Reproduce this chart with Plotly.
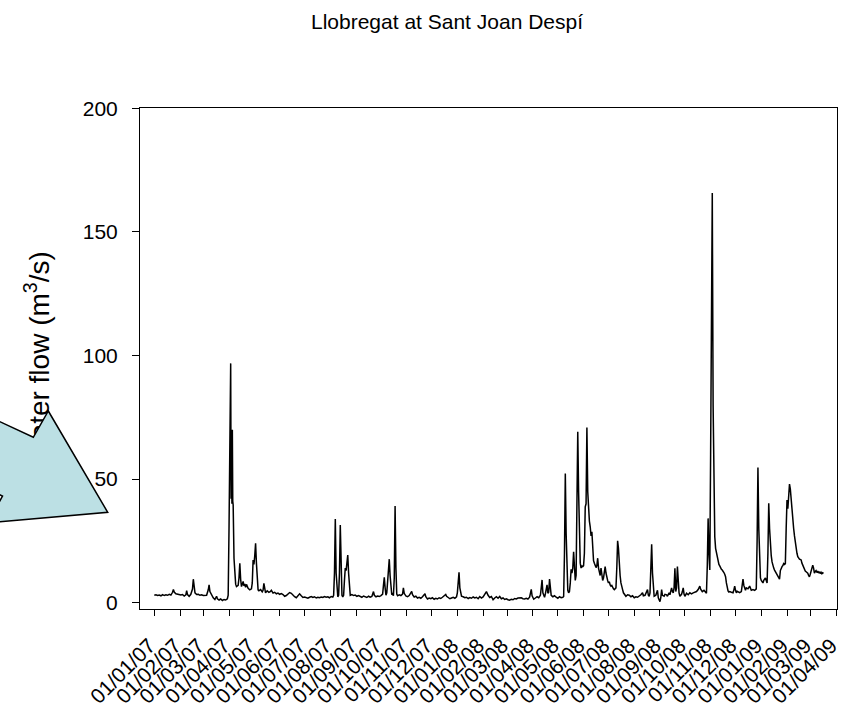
import plotly.graph_objects as go

# ---------------- data ----------------
dates = [
 "2007-01-01","2007-01-03","2007-01-05","2007-01-07","2007-01-09","2007-01-11","2007-01-13","2007-01-15","2007-01-17","2007-01-19","2007-01-21","2007-01-23","2007-01-24","2007-01-25","2007-01-27","2007-01-29","2007-01-31",
 "2007-02-02","2007-02-04","2007-02-06","2007-02-08","2007-02-09","2007-02-10","2007-02-12","2007-02-14","2007-02-16","2007-02-17","2007-02-18","2007-02-19","2007-02-21","2007-02-23","2007-02-25","2007-02-27",
 "2007-03-01","2007-03-03","2007-03-05","2007-03-07","2007-03-08","2007-03-09","2007-03-11","2007-03-13","2007-03-15","2007-03-17","2007-03-18","2007-03-20","2007-03-22","2007-03-24","2007-03-26","2007-03-28","2007-03-30","2007-03-31",
 "2007-04-01","2007-04-02","2007-04-03","2007-04-03 12:00","2007-04-04","2007-04-04 12:00","2007-04-05","2007-04-05 12:00","2007-04-06","2007-04-07","2007-04-08","2007-04-09","2007-04-10","2007-04-12","2007-04-13","2007-04-14","2007-04-15","2007-04-16","2007-04-17","2007-04-18","2007-04-19","2007-04-20","2007-04-21","2007-04-22","2007-04-24","2007-04-26","2007-04-28","2007-04-29","2007-04-30",
 "2007-05-01","2007-05-02","2007-05-03","2007-05-04","2007-05-05","2007-05-06","2007-05-07","2007-05-09","2007-05-11","2007-05-12","2007-05-13","2007-05-14","2007-05-15","2007-05-17","2007-05-19","2007-05-21","2007-05-22","2007-05-24","2007-05-26","2007-05-28","2007-05-30",
 "2007-06-01","2007-06-03","2007-06-05","2007-06-07","2007-06-09","2007-06-11","2007-06-13","2007-06-15","2007-06-17","2007-06-19","2007-06-21","2007-06-23","2007-06-25","2007-06-27","2007-06-29",
 "2007-07-01","2007-07-03","2007-07-05","2007-07-07","2007-07-09","2007-07-11","2007-07-13","2007-07-15","2007-07-17","2007-07-19","2007-07-21","2007-07-23","2007-07-25","2007-07-27","2007-07-29","2007-07-31",
 "2007-08-02","2007-08-04","2007-08-05","2007-08-06","2007-08-07","2007-08-08","2007-08-09","2007-08-10","2007-08-11","2007-08-12","2007-08-13","2007-08-14","2007-08-15","2007-08-16","2007-08-17","2007-08-18","2007-08-19","2007-08-20","2007-08-21","2007-08-22","2007-08-23","2007-08-24","2007-08-25","2007-08-27","2007-08-29","2007-08-31",
 "2007-09-02","2007-09-04","2007-09-06","2007-09-08","2007-09-10","2007-09-12","2007-09-14","2007-09-16","2007-09-18","2007-09-20","2007-09-22","2007-09-23","2007-09-25","2007-09-27","2007-09-29",
 "2007-10-01","2007-10-03","2007-10-04","2007-10-05","2007-10-06","2007-10-07","2007-10-08","2007-10-09","2007-10-10","2007-10-11","2007-10-12","2007-10-13","2007-10-14","2007-10-15","2007-10-16","2007-10-17","2007-10-18","2007-10-19","2007-10-20","2007-10-21","2007-10-23","2007-10-25","2007-10-27","2007-10-28","2007-10-29","2007-10-31",
 "2007-11-02","2007-11-04","2007-11-06","2007-11-07","2007-11-08","2007-11-10","2007-11-12","2007-11-14","2007-11-16","2007-11-18","2007-11-20","2007-11-22","2007-11-23","2007-11-24","2007-11-26","2007-11-28","2007-11-30",
 "2007-12-02","2007-12-04","2007-12-06","2007-12-08","2007-12-10","2007-12-12","2007-12-14","2007-12-16","2007-12-18","2007-12-19","2007-12-21","2007-12-23","2007-12-25","2007-12-27","2007-12-29","2007-12-31",
 "2008-01-01","2008-01-02","2008-01-03","2008-01-04","2008-01-05","2008-01-06","2008-01-08","2008-01-10","2008-01-12","2008-01-14","2008-01-16","2008-01-18","2008-01-20","2008-01-22","2008-01-24","2008-01-26","2008-01-28","2008-01-30",
 "2008-02-01","2008-02-03","2008-02-05","2008-02-07","2008-02-09","2008-02-11","2008-02-13","2008-02-15","2008-02-17","2008-02-19","2008-02-21","2008-02-23","2008-02-25","2008-02-27","2008-02-29",
 "2008-03-02","2008-03-04","2008-03-06","2008-03-08","2008-03-10","2008-03-12","2008-03-14","2008-03-16","2008-03-18","2008-03-20","2008-03-22","2008-03-24","2008-03-26","2008-03-28","2008-03-29","2008-03-30","2008-03-31",
 "2008-04-02","2008-04-04","2008-04-06","2008-04-08","2008-04-10","2008-04-11","2008-04-12","2008-04-13","2008-04-14","2008-04-15","2008-04-16","2008-04-17","2008-04-18","2008-04-19","2008-04-20","2008-04-21","2008-04-22","2008-04-23","2008-04-25","2008-04-27","2008-04-29",
 "2008-05-01","2008-05-03","2008-05-05","2008-05-07","2008-05-08","2008-05-09","2008-05-10","2008-05-11","2008-05-12","2008-05-13","2008-05-14","2008-05-15","2008-05-16","2008-05-17","2008-05-18","2008-05-19","2008-05-20","2008-05-21","2008-05-22","2008-05-23","2008-05-24","2008-05-25","2008-05-26","2008-05-27","2008-05-28","2008-05-29","2008-05-30","2008-05-31",
 "2008-06-01","2008-06-02","2008-06-03","2008-06-04","2008-06-05","2008-06-06","2008-06-07","2008-06-08","2008-06-09","2008-06-10","2008-06-11","2008-06-12","2008-06-13","2008-06-14","2008-06-15","2008-06-16","2008-06-17","2008-06-18","2008-06-19","2008-06-20","2008-06-21","2008-06-22","2008-06-23","2008-06-24","2008-06-25","2008-06-26","2008-06-27","2008-06-28","2008-06-29","2008-06-30",
 "2008-07-01","2008-07-02","2008-07-03","2008-07-04","2008-07-05","2008-07-06","2008-07-07","2008-07-08","2008-07-09","2008-07-10","2008-07-11","2008-07-12","2008-07-13","2008-07-14","2008-07-15","2008-07-16","2008-07-17","2008-07-18","2008-07-19","2008-07-20","2008-07-21","2008-07-22","2008-07-24","2008-07-26","2008-07-28","2008-07-30",
 "2008-08-01","2008-08-03","2008-08-05","2008-08-07","2008-08-09","2008-08-11","2008-08-12","2008-08-14","2008-08-16","2008-08-17","2008-08-18","2008-08-19","2008-08-20","2008-08-21","2008-08-22","2008-08-23","2008-08-24","2008-08-25","2008-08-27","2008-08-28","2008-08-29","2008-08-30",
 "2008-09-01","2008-09-02","2008-09-03","2008-09-04","2008-09-06","2008-09-07","2008-09-09","2008-09-10","2008-09-12","2008-09-13","2008-09-14","2008-09-15","2008-09-16","2008-09-17","2008-09-18","2008-09-19","2008-09-20","2008-09-21","2008-09-22","2008-09-23","2008-09-24","2008-09-25","2008-09-27","2008-09-28","2008-09-29","2008-09-30",
 "2008-10-01","2008-10-03","2008-10-05","2008-10-07","2008-10-09","2008-10-11","2008-10-13","2008-10-15","2008-10-17","2008-10-18","2008-10-19","2008-10-20","2008-10-22","2008-10-24","2008-10-26","2008-10-27","2008-10-28","2008-10-29","2008-10-30","2008-10-31",
 "2008-11-01","2008-11-02","2008-11-03","2008-11-04","2008-11-05","2008-11-06","2008-11-07","2008-11-08","2008-11-09","2008-11-10","2008-11-11","2008-11-12","2008-11-13","2008-11-14","2008-11-15","2008-11-16","2008-11-17","2008-11-18","2008-11-19","2008-11-20","2008-11-21","2008-11-22","2008-11-23","2008-11-24","2008-11-26","2008-11-28","2008-11-29","2008-11-30",
 "2008-12-01","2008-12-02","2008-12-03","2008-12-04","2008-12-06","2008-12-08","2008-12-09","2008-12-10","2008-12-11","2008-12-12","2008-12-13","2008-12-14","2008-12-16","2008-12-18","2008-12-19","2008-12-20","2008-12-22","2008-12-24","2008-12-25","2008-12-26","2008-12-27","2008-12-28","2008-12-29","2008-12-30","2008-12-31",
 "2009-01-01","2009-01-02","2009-01-03","2009-01-04","2009-01-05","2009-01-06","2009-01-07","2009-01-08","2009-01-09","2009-01-10","2009-01-11","2009-01-12","2009-01-13","2009-01-14","2009-01-15","2009-01-16","2009-01-17","2009-01-18","2009-01-19","2009-01-20","2009-01-21","2009-01-22","2009-01-23","2009-01-24","2009-01-25","2009-01-26","2009-01-27","2009-01-28","2009-01-29","2009-01-30","2009-01-31",
 "2009-02-01","2009-02-02","2009-02-03","2009-02-04","2009-02-05","2009-02-06","2009-02-07","2009-02-08","2009-02-09","2009-02-10","2009-02-11","2009-02-12","2009-02-13","2009-02-14","2009-02-15","2009-02-16","2009-02-17","2009-02-18","2009-02-19","2009-02-20","2009-02-21","2009-02-22","2009-02-23","2009-02-24","2009-02-25","2009-02-26","2009-02-27","2009-02-28",
 "2009-03-01","2009-03-02","2009-03-03","2009-03-04","2009-03-05","2009-03-06","2009-03-07","2009-03-08","2009-03-09","2009-03-10","2009-03-11","2009-03-12","2009-03-13","2009-03-14","2009-03-15","2009-03-16","2009-03-17",
]

flow = [
 3.0,3.2,2.9,3.1,2.8,3.3,2.9,3.2,3.0,3.4,3.1,4.2,5.4,4.3,3.6,3.4,3.5,
 3.1,3.3,2.7,3.2,4.9,3.3,2.6,3.4,5.5,9.5,6.0,4.0,3.3,3.4,3.0,3.2,
 2.9,3.1,3.0,5.2,7.2,4.5,3.0,2.0,1.3,2.6,1.6,1.1,1.5,0.9,1.3,1.1,1.6,3.0,
 30.0,75.0,96.8,42.0,68.0,40.0,70.0,41.0,39.5,18.0,10.5,7.5,6.5,7.0,10.0,15.9,9.5,6.5,7.5,8.6,6.8,7.6,6.2,7.4,5.8,5.2,5.6,8.0,17.3,
 15.5,19.0,24.0,16.0,8.0,5.2,4.8,5.3,4.4,5.0,7.8,4.6,4.0,4.8,4.2,4.6,5.0,3.9,4.2,3.6,3.9,
 3.4,3.7,3.3,2.6,2.9,3.6,4.1,3.8,2.9,2.4,2.0,3.0,3.6,2.8,2.1,
 2.3,2.0,1.8,2.2,2.5,2.1,2.4,1.9,2.2,2.0,2.3,2.1,2.5,2.2,2.4,2.0,
 2.5,2.3,3.0,12.0,33.8,12.0,3.5,2.4,3.0,12.0,31.4,11.0,3.0,2.4,3.0,9.0,14.0,13.0,16.0,19.3,12.0,6.0,3.0,3.3,2.9,3.1,
 2.6,2.9,2.4,2.2,2.7,2.3,2.1,2.6,2.2,2.5,4.5,3.0,2.4,2.7,2.5,
 2.9,3.5,7.0,10.3,6.0,3.0,4.0,9.0,15.0,17.6,11.0,5.0,3.2,3.6,2.8,10.0,39.1,14.0,3.5,2.8,3.2,2.9,3.5,6.0,3.8,2.7,
 2.4,2.9,4.0,4.6,3.2,2.3,2.6,1.9,2.2,1.8,2.4,3.2,3.6,2.4,1.5,1.9,1.6,
 2.0,1.4,1.8,1.5,2.0,1.7,2.2,2.8,3.3,2.6,2.0,1.6,1.9,2.2,1.8,2.4,
 4.0,7.5,12.3,6.0,3.4,2.6,2.4,2.0,2.2,1.7,2.1,1.8,2.3,1.9,2.2,1.6,2.5,1.9,
 2.3,3.2,4.5,3.0,2.1,2.5,1.2,1.9,2.4,1.8,2.5,1.6,1.9,1.3,1.6,
 1.2,1.0,1.4,1.2,1.7,1.5,1.9,2.1,2.0,1.6,1.5,1.8,1.5,2.2,3.5,5.4,2.8,
 1.4,1.9,2.4,2.0,3.0,6.0,9.2,4.0,2.6,2.2,3.6,5.6,7.2,3.8,4.2,9.6,6.0,3.0,2.4,2.8,2.2,
 1.8,2.4,2.0,2.2,2.5,20.0,52.3,28.0,9.0,5.0,4.0,4.5,8.0,13.5,12.0,14.0,20.6,12.0,9.0,11.0,35.0,69.1,45.0,25.0,16.0,14.0,15.0,14.6,
 15.0,20.0,38.8,40.0,70.9,45.0,36.0,33.0,30.7,27.0,28.7,20.0,17.0,16.0,15.0,14.2,15.0,18.0,14.0,12.0,11.0,14.0,11.0,9.0,10.0,12.0,14.6,12.0,10.0,9.0,
 8.0,8.5,7.2,6.7,7.0,6.0,5.6,5.3,5.8,6.0,14.0,25.0,22.0,15.0,11.0,8.0,6.0,5.3,4.0,3.4,2.8,2.6,3.2,3.0,2.4,2.8,
 2.0,2.4,2.2,2.6,3.2,4.0,2.8,3.0,4.2,5.3,3.0,2.6,4.0,12.0,23.6,12.0,4.5,2.6,3.0,4.0,5.0,2.0,
 0.4,2.0,5.3,3.0,2.6,3.4,3.2,2.6,4.0,3.2,4.2,6.0,4.5,4.0,6.0,13.9,4.5,6.0,14.6,6.0,4.0,2.6,3.4,4.5,6.0,3.5,
 2.6,3.8,3.2,4.0,3.6,4.0,4.4,4.5,5.3,6.0,6.7,5.5,4.5,5.0,4.0,3.8,15.0,34.1,20.0,13.2,
 60.0,140.0,165.7,80.0,40.0,26.7,22.0,20.0,18.3,16.5,15.5,14.9,14.0,13.5,13.2,12.9,12.2,11.5,10.5,8.0,5.3,4.8,4.3,4.5,4.2,4.0,5.2,6.7,
 5.0,4.0,4.6,4.5,4.1,4.5,6.5,9.5,7.0,6.0,5.0,6.0,5.6,6.7,5.5,5.0,5.3,5.0,5.3,5.6,25.0,54.7,30.0,13.0,10.0,
 9.0,8.5,8.0,9.0,9.5,10.0,9.0,8.0,20.0,40.2,30.0,22.0,19.0,16.5,14.9,14.0,13.2,12.6,12.2,11.5,10.8,10.0,9.5,13.0,14.4,14.6,15.0,15.8,15.5,15.8,30.0,
 41.5,38.0,43.0,48.0,46.0,41.0,36.5,33.0,30.0,27.0,24.0,22.0,20.0,18.6,18.0,17.6,17.5,17.3,16.0,15.0,14.0,13.3,12.8,12.5,12.2,11.9,11.0,10.5,
 11.5,13.0,14.5,15.2,14.0,12.0,12.6,13.0,12.2,12.8,12.0,12.5,11.8,12.3,11.7,12.1,11.9,
]

tick_dates = [
 "2007-01-01","2007-02-01","2007-03-01","2007-04-01","2007-05-01","2007-06-01","2007-07-01",
 "2007-08-01","2007-09-01","2007-10-01","2007-11-01","2007-12-01","2008-01-01","2008-02-01",
 "2008-03-01","2008-04-01","2008-05-01","2008-06-01","2008-07-01","2008-08-01","2008-09-01",
 "2008-10-01","2008-11-01","2008-12-01","2009-01-01","2009-02-01","2009-03-01","2009-04-01",
]
tick_labels = [
 "01/01/07","01/02/07","01/03/07","01/04/07","01/05/07","01/06/07","01/07/07",
 "01/08/07","01/09/07","01/10/07","01/11/07","01/12/07","01/01/08","01/02/08",
 "01/03/08","01/04/08","01/05/08","01/06/08","01/07/08","01/08/08","01/09/08",
 "01/10/08","01/11/08","01/12/08","01/01/09","01/02/09","01/03/09","01/04/09",
]
y_ticks = [0, 50, 100, 150, 200]

title_text = "Llobregat at Sant Joan Despí"
y_title = "Water flow (m<sup>3</sup>/s)"

# ---------------- layout geometry ----------------
W, H = 847, 714
ML, MR, MT, MB = 140, 10, 108, 105
PW, PH = W - ML - MR, H - MT - MB
FONT = "Arial, Liberation Sans, sans-serif"
TICK_SIZE = 21

def px2paper(px, py):
    return (px - ML) / PW, (H - MB - py) / PH

# decorative block arrow (pixel outline, partly outside the canvas)
arrow_px = [(48.3, 411), (107.7, 512.3), (-11.7, 522.7), (2.5, 496),
            (-197.5, 402.4), (-166.7, 343.7), (33.3, 437.3)]
pts = [px2paper(x, y) for x, y in arrow_px]
arrow_path = "M " + " L ".join(f"{x:.5f},{y:.5f}" for x, y in pts) + " Z"

lx0, ly0 = px2paper(14, 470)
lx1, ly1 = px2paper(64, 246)

fig = go.Figure()
fig.add_trace(go.Scatter(x=dates, y=flow, mode="lines",
                         line=dict(color="black", width=1.5),
                         hoverinfo="x+y", showlegend=False))

fig.update_layout(
    width=W, height=H,
    margin=dict(l=ML, r=MR, t=MT, b=MB, pad=0),
    paper_bgcolor="white", plot_bgcolor="white",
    showlegend=False,
    font=dict(family=FONT, color="black", size=TICK_SIZE),
    title=dict(text=title_text, x=447 / W, xref="container", xanchor="center",
               y=1 - 22 / H, yref="container", yanchor="middle",
               font=dict(family=FONT, size=21, color="black")),
    xaxis=dict(type="date",
               range=["2006-12-14 19:00", "2009-04-02 05:00"],
               tickmode="array", tickvals=tick_dates, ticktext=tick_labels,
               tickangle=-45, ticks="outside", ticklen=6, tickwidth=1, tickcolor="black",
               showline=True, linecolor="black", linewidth=1, mirror=True,
               showgrid=False, zeroline=False, automargin=False,
               ticklabelstandoff=9, ticklabelshift=-5,
               tickfont=dict(family=FONT, size=TICK_SIZE, color="black")),
    yaxis=dict(range=[-2.55, 200.1], tickmode="array", tickvals=y_ticks,
               ticks="outside", ticklen=7, tickwidth=1, tickcolor="black",
               showline=True, linecolor="black", linewidth=1, mirror=True,
               showgrid=False, zeroline=False, automargin=False,
               ticklabelstandoff=10,
               tickfont=dict(family=FONT, size=TICK_SIZE, color="black")),
    shapes=[
        dict(type="rect", xref="paper", yref="paper",
             x0=lx0, x1=lx1, y0=ly0, y1=ly1,
             line=dict(width=0), fillcolor="rgba(0,0,0,0)", layer="above",
             label=dict(text=y_title, textangle=-90, textposition="middle center",
                        font=dict(family=FONT, size=28, color="black"))),
        dict(type="path", xref="paper", yref="paper", path=arrow_path,
             fillcolor="#BCE0E4", line=dict(color="black", width=1.5), layer="above"),
    ],
)

fig.write_html("out.html")
